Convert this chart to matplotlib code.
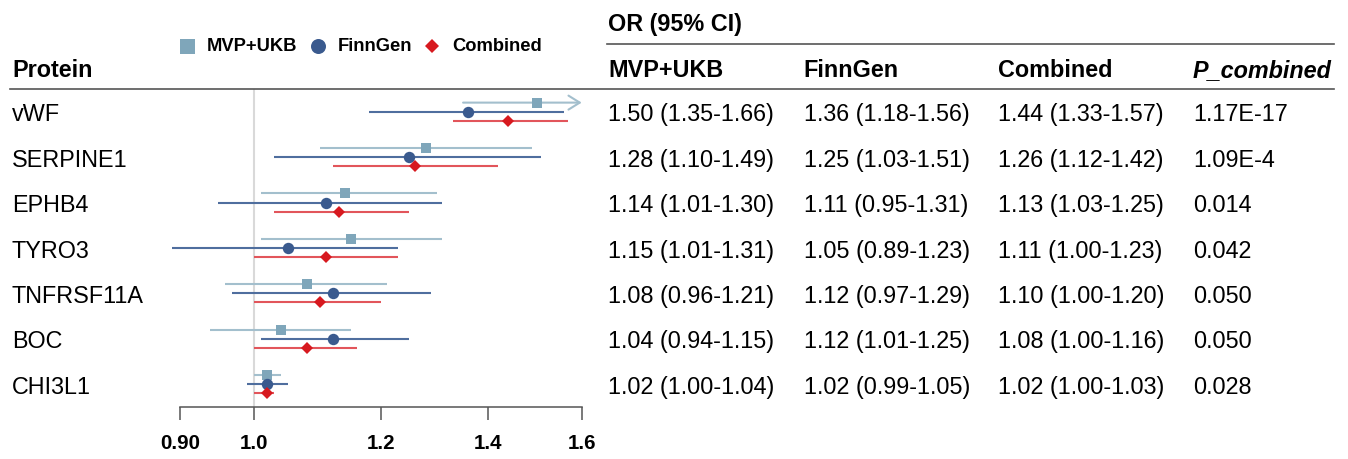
import matplotlib
matplotlib.use("Agg")
import matplotlib.pyplot as plt
import matplotlib.ticker as mticker
from matplotlib.lines import Line2D
from matplotlib.transforms import blended_transform_factory
import numpy as np

plt.rcParams["font.family"] = ["Liberation Sans", "DejaVu Sans"]

# data
proteins = ["vWF", "SERPINE1", "EPHB4", "TYRO3", "TNFRSF11A", "BOC", "CHI3L1"]

mvp_or = [1.50, 1.28, 1.14, 1.15, 1.08, 1.04, 1.02]
mvp_lo = [1.35, 1.10, 1.01, 1.01, 0.96, 0.94, 1.00]
mvp_hi = [1.66, 1.49, 1.30, 1.31, 1.21, 1.15, 1.04]

fin_or = [1.36, 1.25, 1.11, 1.05, 1.12, 1.12, 1.02]
fin_lo = [1.18, 1.03, 0.95, 0.89, 0.97, 1.01, 0.99]
fin_hi = [1.56, 1.51, 1.31, 1.23, 1.29, 1.25, 1.05]

comb_or = [1.44, 1.26, 1.13, 1.11, 1.10, 1.08, 1.02]
comb_lo = [1.33, 1.12, 1.03, 1.00, 1.00, 1.00, 1.00]
comb_hi = [1.57, 1.42, 1.25, 1.23, 1.20, 1.16, 1.03]

p_combined = ["1.17E-17", "1.09E-4", "0.014", "0.042", "0.050", "0.050", "0.028"]

tick_values = [0.90, 1.0, 1.2, 1.4, 1.6]
tick_labels = ["0.90", "1.0", "1.2", "1.4", "1.6"]

W, H = 1348, 460


def fx(p):
    return p / W


def fy(p):
    return 1 - p / H


series = [
    ("MVP+UKB", mvp_or, mvp_lo, mvp_hi, "s", 7.6, "#7FA6BA", "#A3BFCD", -0.2),
    ("FinnGen", fin_or, fin_lo, fin_hi, "o", 8.2, "#3A5A8E", "#4F6E9E", 0.0),
    ("Combined", comb_or, comb_lo, comb_hi, "D", 5.8, "#D7191F", "#E2555B", 0.2),
]

fig = plt.figure(figsize=(W / 100, H / 100), dpi=100)

# forest panel, log x axis: 0.90 -> px 180, 1.6 -> px 581.7
k = (581.7 - 180) / np.log(1.6 / 0.9)
x_min = 0.9 * np.exp(-(180 - 150) / k)
x_max = 1.6 * np.exp((600 - 581.7) / k)
top_px, bot_px = 90, 408.3
row0, step = 112.7, 45.4

ax = fig.add_axes([fx(150), fy(bot_px), fx(450), (bot_px - top_px) / H])
ax.set_xscale("log")
ax.set_xlim(x_min, x_max)
ax.set_ylim((bot_px - row0) / step, (top_px - row0) / step)

ax.axvline(1.0, color="#D9D9D9", lw=1.5, zorder=0)

rows = np.arange(len(proteins))
for name, vals, lo, hi, mk, ms, mcol, lcol, off in series:
    for i in rows:
        y = i + off
        if hi[i] > tick_values[-1]:
            ax.annotate("", xy=(tick_values[-1], y), xytext=(lo[i], y),
                        arrowprops=dict(arrowstyle="->,head_length=0.45,head_width=0.28",
                                        color=lcol, lw=1.5, mutation_scale=18,
                                        shrinkA=0, shrinkB=0))
        else:
            ax.plot([lo[i], hi[i]], [y, y], color=lcol, lw=1.5, solid_capstyle="butt")
    ax.plot(vals, rows + off, linestyle="none", marker=mk, markersize=ms,
            color=mcol, markeredgewidth=0, zorder=3)

for s in ["top", "left", "right"]:
    ax.spines[s].set_visible(False)
ax.spines["bottom"].set_bounds(tick_values[0], tick_values[-1])
ax.spines["bottom"].set_color("#555555")
ax.spines["bottom"].set_linewidth(1.1)
ax.xaxis.set_major_locator(mticker.FixedLocator(tick_values))
ax.xaxis.set_major_formatter(mticker.FixedFormatter(tick_labels))
ax.xaxis.set_minor_locator(mticker.NullLocator())
ax.tick_params(axis="x", direction="out", length=9.5, width=1.1, color="#555555",
               pad=9, labelsize=14.8)
for lab in ax.get_xticklabels():
    lab.set_fontweight("bold")
ax.set_yticks([])

# table text
trans = blended_transform_factory(fig.transFigure, ax.transData)
col_x = [608, 803.5, 998, 1193]
body_size = 16.8

for i, name in enumerate(proteins):
    y = i + 0.19
    ax.text(fx(12), y, name, transform=trans, fontsize=body_size, va="baseline",
            clip_on=False)
    for cx, o, l, h in zip(col_x[:3], [mvp_or, fin_or, comb_or],
                           [mvp_lo, fin_lo, comb_lo], [mvp_hi, fin_hi, comb_hi]):
        ax.text(fx(cx), y, f"{o[i]:.2f} ({l[i]:.2f}-{h[i]:.2f})", transform=trans,
                fontsize=body_size, va="baseline", clip_on=False)
    ax.text(fx(col_x[3]), y, p_combined[i], transform=trans, fontsize=body_size,
            va="baseline", clip_on=False)

# headers
head_size = 16.8
fig.text(fx(608), fy(31.5), "OR (95% CI)", fontsize=head_size, fontweight="bold",
         va="baseline")
fig.text(fx(12), fy(77), "Protein", fontsize=head_size, fontweight="bold",
         va="baseline")
for cx, label in zip(col_x[:3], ["MVP+UKB", "FinnGen", "Combined"]):
    fig.text(fx(cx), fy(77), label, fontsize=head_size, fontweight="bold",
             va="baseline")
fig.text(fx(col_x[3]), fy(77), "P_combined", fontsize=head_size, fontweight="bold",
         fontstyle="italic", va="baseline")

fig.add_artist(Line2D([fx(607), fx(1334)], [fy(44.5), fy(44.5)],
                      color="#555555", lw=1.2))
fig.add_artist(Line2D([fx(10), fx(1334)], [fy(90), fy(90)],
                      color="#555555", lw=1.2))

# legend
leg_marker_x = [187.5, 318, 432]
leg_text_x = [206.7, 337.5, 452]
leg_ms = [10.8, 10.8, 7.6]
for (name, *_rest), mx, tx, lms in zip(series, leg_marker_x, leg_text_x, leg_ms):
    mk, mcol = _rest[3], _rest[5]
    fig.add_artist(Line2D([fx(mx)], [fy(46.5)], marker=mk, markersize=lms,
                          color=mcol, markeredgewidth=0, linestyle="none"))
    fig.text(fx(tx), fy(46.5), name, fontsize=13.2, fontweight="bold", va="center")

fig.savefig("out.png", dpi=100)
